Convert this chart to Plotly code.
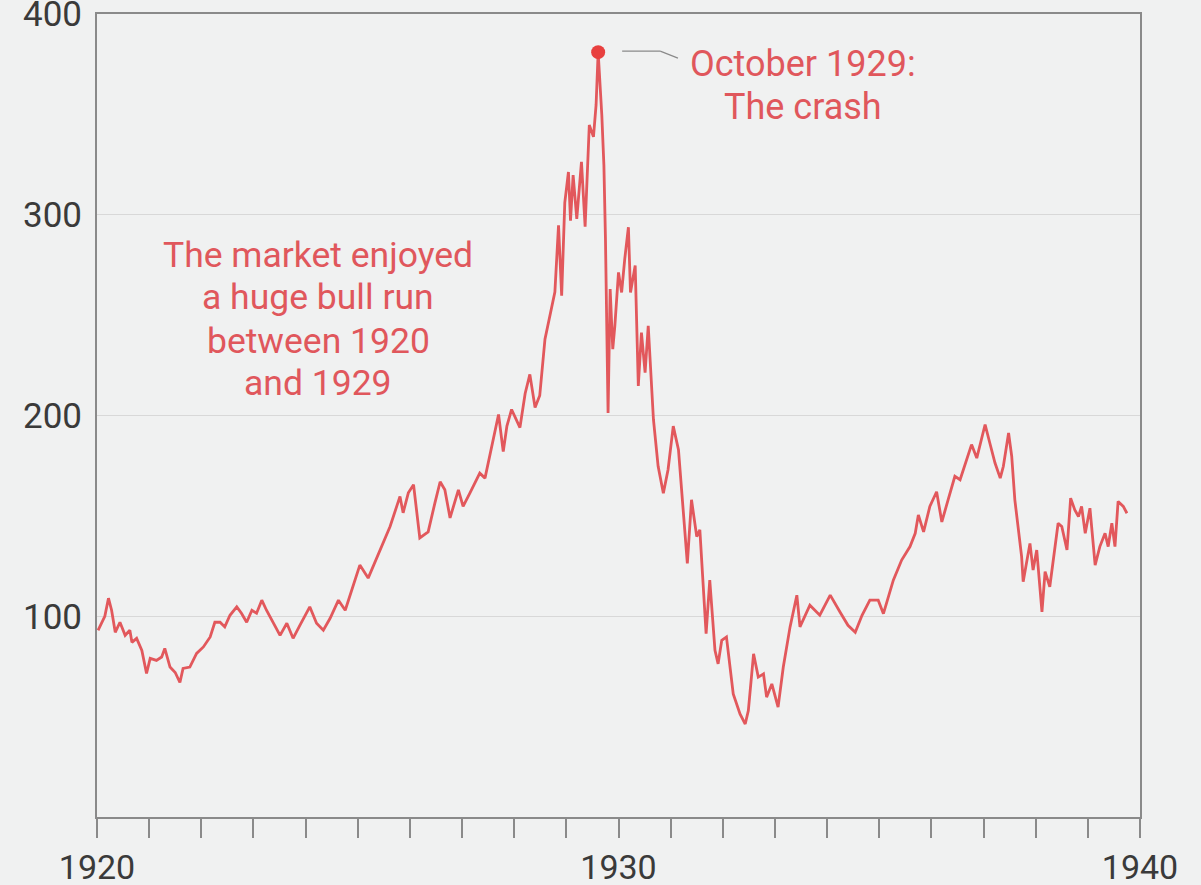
import plotly.graph_objects as go

# Dow Jones Industrial Average, 1920-1940
years = [
    1920.02, 1920.15, 1920.22, 1920.28, 1920.35, 1920.44, 1920.54, 1920.63, 1920.67, 1920.76,
    1920.86, 1920.95, 1921.02, 1921.14, 1921.24, 1921.30, 1921.40, 1921.50, 1921.59, 1921.65,
    1921.78, 1921.91, 1922.04, 1922.17, 1922.26, 1922.36, 1922.45, 1922.55, 1922.68, 1922.77,
    1922.87, 1922.97, 1923.06, 1923.16, 1923.25, 1923.38, 1923.51, 1923.64, 1923.76, 1923.89,
    1924.08, 1924.21, 1924.34, 1924.47, 1924.63, 1924.76, 1924.91, 1925.04, 1925.20, 1925.36,
    1925.43, 1925.62, 1925.81, 1925.87, 1925.97, 1926.07, 1926.19, 1926.35, 1926.48, 1926.58,
    1926.67, 1926.77, 1926.93, 1927.02, 1927.15, 1927.34, 1927.44, 1927.54, 1927.70, 1927.79,
    1927.86, 1927.95, 1928.05, 1928.11, 1928.21, 1928.30, 1928.40, 1928.49, 1928.59, 1928.72,
    1928.78, 1928.85, 1928.91, 1928.97, 1929.04, 1929.08, 1929.13, 1929.20, 1929.29, 1929.36,
    1929.44, 1929.52, 1929.57, 1929.61, 1929.68, 1929.72, 1929.75, 1929.80, 1929.84, 1929.89,
    1929.93, 1930.00, 1930.06, 1930.12, 1930.19, 1930.23, 1930.32, 1930.38, 1930.44, 1930.51,
    1930.57, 1930.67, 1930.76, 1930.86, 1930.95, 1931.05, 1931.15, 1931.24, 1931.32, 1931.40,
    1931.50, 1931.56, 1931.68, 1931.75, 1931.85, 1931.91, 1931.98, 1932.07, 1932.20, 1932.33,
    1932.43, 1932.49, 1932.59, 1932.68, 1932.78, 1932.84, 1932.94, 1933.06, 1933.16, 1933.29,
    1933.42, 1933.48, 1933.67, 1933.86, 1934.06, 1934.25, 1934.40, 1934.54, 1934.67, 1934.82,
    1934.98, 1935.08, 1935.27, 1935.43, 1935.59, 1935.69, 1935.75, 1935.85, 1935.97, 1936.10,
    1936.20, 1936.32, 1936.45, 1936.55, 1936.68, 1936.77, 1936.87, 1936.97, 1937.03, 1937.12,
    1937.22, 1937.32, 1937.38, 1937.48, 1937.54, 1937.60, 1937.67, 1937.73, 1937.76, 1937.83,
    1937.89, 1937.95, 1938.02, 1938.12, 1938.18, 1938.27, 1938.34, 1938.43, 1938.50, 1938.60,
    1938.67, 1938.75, 1938.82, 1938.88, 1938.95, 1939.04, 1939.14, 1939.23, 1939.33, 1939.39,
    1939.46, 1939.52, 1939.58, 1939.68, 1939.75,
]
values = [
    93, 100, 109, 103, 92, 97, 90.5, 93, 87, 89,
    83, 71.5, 79, 78, 79.7, 84, 74.7, 72, 67, 74,
    74.7, 81.5, 84.7, 89.7, 97, 97, 94.7, 100.5, 104.7, 101.5,
    97, 103, 101.5, 108, 103, 96.5, 90.5, 96.5, 89, 95.5,
    104.7, 96.5, 93, 99, 108, 103, 114.7, 125.5, 119, 129,
    133, 144.7, 159.7, 151.5, 161.5, 165.5, 139, 142, 156.5, 167,
    163, 149, 163, 154.7, 161.3, 171.3, 168.8, 181.3, 200.5, 182,
    194.7, 203, 197, 194, 211, 220.5, 204, 210, 238, 254.7,
    261.5, 294.7, 259.7, 306, 321.3, 297, 319.7, 298, 326.3, 294,
    344.7, 338.8, 354.7, 381, 349.7, 324.7, 288, 201.3, 263, 233,
    244.7, 271.3, 261.3, 278, 293.8, 261.3, 274.7, 214.7, 241.3, 221.3,
    244.7, 198, 174.7, 161.3, 173, 194.7, 183, 153, 126.3, 158,
    139.7, 143, 91.3, 118, 83, 76.3, 88, 89.7, 61.3, 51.3,
    46.3, 53, 81.3, 69.7, 71.3, 59.7, 66.3, 54.7, 74.7, 94.7,
    110.5, 94.7, 105.5, 100.5, 110.5, 102, 95.5, 92, 100.5, 108,
    108, 101.3, 118, 128, 134.7, 141.3, 150.5, 142, 154.7, 162,
    147, 158, 169.7, 168, 178.8, 185.5, 178.8, 188.8, 195.5, 186.3,
    176.3, 168.8, 174.7, 191.3, 179.7, 158, 141.3, 129.7, 117.2, 128,
    136.3, 123, 133, 102.2, 122.2, 114.7, 129.7, 146.3, 144.7, 133,
    158.8, 153, 149.7, 154.7, 141.3, 153.8, 125.5, 134.7, 141.3, 134.7,
    146.3, 134.7, 157.2, 154.7, 151.3,
]

peak_year = [1929.61]
peak_value = [381]

x_tick_vals = list(range(1920, 1941))
x_tick_text = [str(v) if v % 10 == 0 else "" for v in x_tick_vals]
y_tick_vals = [100, 200, 300, 400]
y_tick_text = ["100", "200", "300", "400"]

crash_lines = ["October 1929:", "The crash"]
bull_lines = ["The market enjoyed", "a huge bull run", "between 1920", "and 1929"]

LINE_RED = "#e2585c"
DOT_RED = "#e8403f"
TEXT_RED = "#e0575c"
BG = "#f0f1f1"
AXIS = "#8a8a8a"
FONT = "Roboto"

fig = go.Figure()
fig.add_trace(go.Scatter(
    x=years, y=values, mode="lines",
    line=dict(color=LINE_RED, width=2.8),
    hoverinfo="x+y", showlegend=False,
))
fig.add_trace(go.Scatter(
    x=peak_year, y=peak_value, mode="markers",
    marker=dict(color=DOT_RED, size=14),
    showlegend=False, cliponaxis=False,
))

# connector from the peak to the label
fig.add_shape(type="line", xref="x", yref="y", x0=1930.07, y0=381.5, x1=1930.80, y1=381.5,
              line=dict(color="#8a8a8a", width=1.2))
fig.add_shape(type="line", xref="x", yref="y", x0=1930.80, y0=381.5, x1=1931.14, y1=378,
              line=dict(color="#8a8a8a", width=1.2))

crash_y = [375, 353.5]
for txt, yy in zip(crash_lines, crash_y):
    fig.add_annotation(x=1933.54, y=yy, xref="x", yref="y", text=txt, showarrow=False,
                       font=dict(family=FONT, size=36, color=TEXT_RED), align="center")

bull_y = [280, 259, 237, 216]
for txt, yy in zip(bull_lines, bull_y):
    fig.add_annotation(x=1924.24, y=yy, xref="x", yref="y", text=txt, showarrow=False,
                       font=dict(family=FONT, size=35.5, color=TEXT_RED), align="center")

fig.update_layout(
    template="none",
    width=1201, height=885,
    margin=dict(l=97, r=61, t=14, b=68, autoexpand=False),
    paper_bgcolor=BG, plot_bgcolor=BG,
    font=dict(family=FONT, size=35, color="#3a3a3a"),
    showlegend=False,
)
fig.update_xaxes(
    range=[1920, 1940], tickmode="array", tickvals=x_tick_vals, ticktext=x_tick_text,
    showgrid=False, zeroline=False, automargin=False,
    showline=True, linecolor=AXIS, linewidth=2, mirror=True,
    ticks="outside", ticklen=19, tickwidth=2, tickcolor=AXIS,
    tickfont=dict(family=FONT, size=34, color="#3a3a3a"),
    ticklabeloverflow="allow",
)
fig.update_yaxes(
    range=[0, 400], tickmode="array", tickvals=y_tick_vals, ticktext=y_tick_text,
    showgrid=True, gridcolor="#d8d8d8", gridwidth=1, zeroline=False, automargin=False,
    showline=True, linecolor=AXIS, linewidth=2, mirror=True,
    ticks="", ticklabelstandoff=6, ticklabeloverflow="allow",
    tickfont=dict(family=FONT, size=35, color="#3a3a3a"),
)

fig.write_html(
    "out.html",
    config={"displayModeBar": False},
    post_script="document.body.style.margin='0';document.body.style.background='" + BG + "';",
)
